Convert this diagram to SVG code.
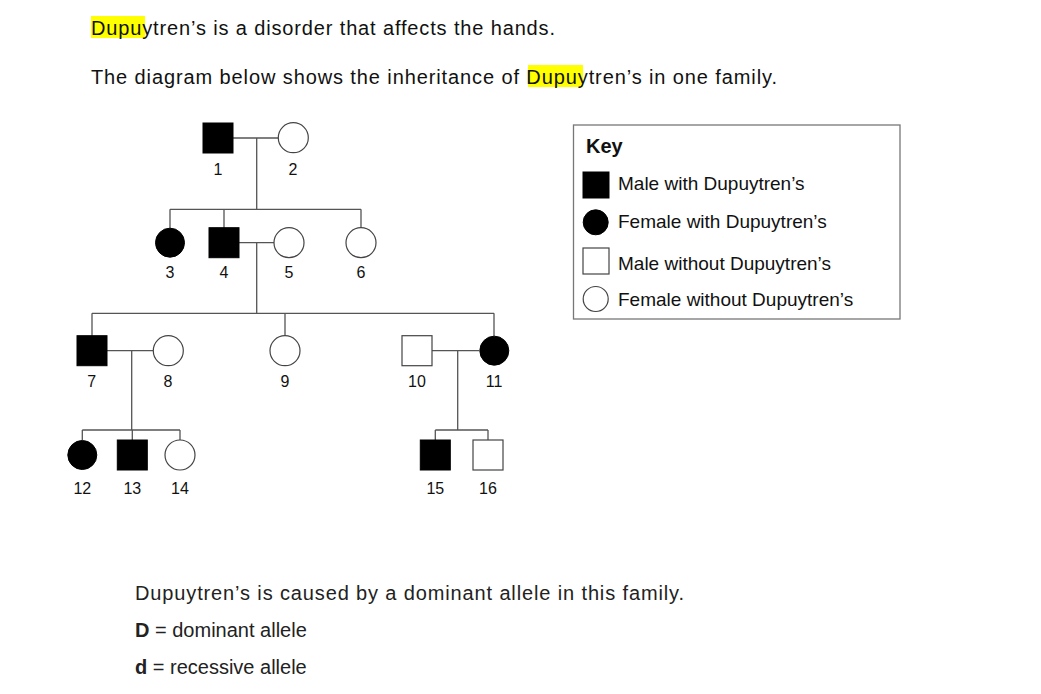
<svg xmlns="http://www.w3.org/2000/svg" width="1041" height="694" viewBox="0 0 1041 694">
<style>
text{font-family:"Liberation Sans",Arial,sans-serif;fill:#111}
.h{font-size:20px}
.n{font-size:16px;text-anchor:middle}
.k{font-size:19px}
.l{stroke:#555;stroke-width:1.3;fill:none}
.f{fill:#000;stroke:#000}
.o{fill:#fff;stroke:#444;stroke-width:1.2}
</style>
<rect width="1041" height="694" fill="#fff"/>
<rect x="91" y="16" width="54" height="22" fill="#ffff00"/>
<rect x="528" y="65" width="55" height="22" fill="#ffff00"/>
<text class="h" x="91" y="35" textLength="464">Dupuytren’s is a disorder that affects the hands.</text>
<text class="h" x="91" y="84" textLength="686">The diagram below shows the inheritance of Dupuytren’s in one family.</text>
<g id="connectors" class="l">
<path d="M233 138H278M256.7 138V209.3M170 209.3H361M170 209.3V228M224 209.3V228M361 209.3V228"/>
<path d="M239 242.7H274M256.7 242.7V313.3M92 313.3H494M92 313.3V336M285 313.3V336M494 313.3V336"/>
<path d="M107 350.7H153M131.7 350.7V430M82.3 430H180M82.3 430V440M132.3 430V440M180 430V440"/>
<path d="M432 350.7H479M457.7 350.7V430M435.3 430H488M435.3 430V440M488 430V440"/>
</g>
<g id="n1"><rect class="f" x="203" y="123" width="30" height="30"/><text class="n" x="218" y="175">1</text></g>
<g id="n2"><circle class="o" cx="293.3" cy="137.7" r="15"/><text class="n" x="293" y="175">2</text></g>
<g id="n3"><circle class="f" cx="170" cy="242.7" r="14.5"/><text class="n" x="170" y="278">3</text></g>
<g id="n4"><rect class="f" x="209" y="227.7" width="30" height="30"/><text class="n" x="224" y="278">4</text></g>
<g id="n5"><circle class="o" cx="289" cy="242.7" r="15"/><text class="n" x="289" y="278">5</text></g>
<g id="n6"><circle class="o" cx="361" cy="242.7" r="15"/><text class="n" x="361" y="278">6</text></g>
<g id="n7"><rect class="f" x="77" y="335.7" width="30" height="30"/><text class="n" x="91.7" y="387">7</text></g>
<g id="n8"><circle class="o" cx="168.3" cy="350.7" r="15"/><text class="n" x="168" y="387">8</text></g>
<g id="n9"><circle class="o" cx="285" cy="350.7" r="15"/><text class="n" x="285" y="387">9</text></g>
<g id="n10"><rect class="o" x="402" y="335.7" width="30" height="30"/><text class="n" x="417" y="387">10</text></g>
<g id="n11"><circle class="f" cx="494.3" cy="350.7" r="14.5"/><text class="n" x="494" y="387">11</text></g>
<g id="n12"><circle class="f" cx="82.3" cy="455" r="14.5"/><text class="n" x="82.3" y="494">12</text></g>
<g id="n13"><rect class="f" x="117.3" y="440" width="30" height="30"/><text class="n" x="132.3" y="494">13</text></g>
<g id="n14"><circle class="o" cx="180" cy="455" r="15"/><text class="n" x="180" y="494">14</text></g>
<g id="n15"><rect class="f" x="420.3" y="440" width="30" height="30"/><text class="n" x="435.3" y="494">15</text></g>
<g id="n16"><rect class="o" x="473" y="440" width="30" height="30"/><text class="n" x="488" y="494">16</text></g>
<g id="key">
<rect x="573.5" y="125" width="326.5" height="194" fill="#fff" stroke="#777" stroke-width="1.3"/>
<text x="586" y="153" style="font-size:20px;font-weight:bold">Key</text>
<rect class="f" x="583" y="172" width="26" height="26"/>
<text class="k" x="618" y="190">Male with Dupuytren’s</text>
<circle class="f" cx="595.7" cy="222.3" r="12.5"/>
<text class="k" x="618" y="228">Female with Dupuytren’s</text>
<rect class="o" x="583" y="248" width="26" height="26"/>
<text class="k" x="618" y="270">Male without Dupuytren’s</text>
<circle class="o" cx="595.7" cy="299" r="12.5"/>
<text class="k" x="618" y="306">Female without Dupuytren’s</text>
</g>
<text class="h" x="135" y="600" textLength="549" style="fill:#222">Dupuytren’s is caused by a dominant allele in this family.</text>
<text class="h" x="135" y="637" style="fill:#222"><tspan font-weight="bold">D</tspan> = dominant allele</text>
<text class="h" x="135" y="674" style="fill:#222"><tspan font-weight="bold">d</tspan> = recessive allele</text>
</svg>
